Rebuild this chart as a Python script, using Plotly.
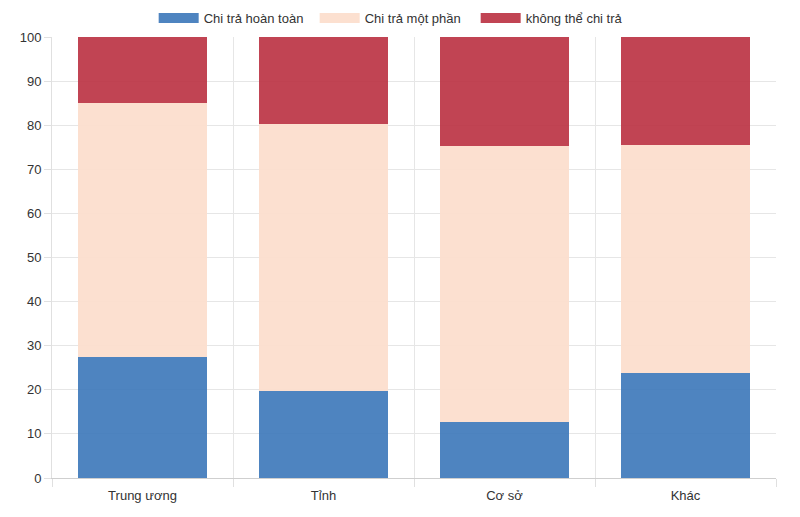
import plotly.graph_objects as go

categories = ["Trung ương", "Tỉnh", "Cơ sở", "Khác"]
full_pay = [27.4, 19.7, 12.7, 23.8]
partial_pay = [57.6, 60.6, 62.6, 51.7]
no_pay = [15.0, 19.7, 24.7, 24.5]
series_names = ["Chi trả hoàn toàn", "Chi trả một phần", "không thể chi trả"]
y_ticks = [0, 10, 20, 30, 40, 50, 60, 70, 80, 90, 100]

colors = ["rgba(63,121,187,0.92)", "rgba(252,222,206,0.95)", "rgba(186,48,64,0.9)"]

fig = go.Figure()
for name, vals, c in zip(series_names, [full_pay, partial_pay, no_pay], colors):
    fig.add_trace(go.Bar(x=categories, y=vals, name=name, showlegend=False,
                         marker=dict(color=c, line=dict(width=0))))
# legend entries drawn as wide boxes
for name, c in zip(series_names, colors):
    fig.add_trace(go.Scatter(x=[None], y=[None], name=name, mode="lines",
                             line=dict(color=c, width=13)))

fig.update_layout(
    barmode="stack",
    bargap=0.287,
    width=784, height=501,
    margin=dict(l=44, r=16, t=29, b=31, autoexpand=False),
    paper_bgcolor="white", plot_bgcolor="white",
    font=dict(family="Liberation Sans, Arial, sans-serif", size=13, color="#333"),
    legend=dict(orientation="h", x=0.474, xanchor="center", y=1.043, yanchor="middle",
                font=dict(size=13, color="#333"), traceorder="normal",
                itemwidth=40, entrywidth=106, entrywidthmode="pixels"),
    showlegend=True,
)
fig.update_xaxes(tickson="boundaries", showgrid=True, gridcolor="#e6e6e6",
                 ticks="outside", ticklen=8, tickcolor="#e0e0e0",
                 ticklabelstandoff=5,
                 showline=True, linecolor="#cfcfcf", linewidth=1)
fig.update_yaxes(range=[0, 100], tickvals=y_ticks, showgrid=True, gridcolor="#e6e6e6",
                 ticks="outside", ticklen=7, tickcolor="#e0e0e0",
                 showline=True, linecolor="#e0e0e0", zeroline=False)

fig.write_html("out.html")
